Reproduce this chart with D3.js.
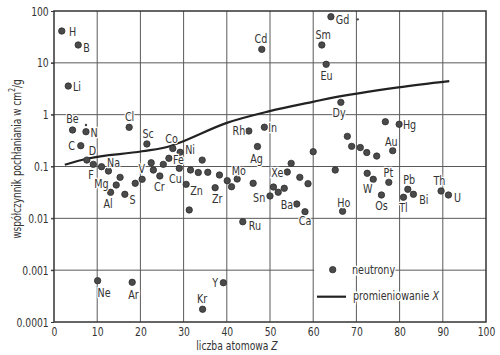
<!DOCTYPE html>
<html>
<head>
<meta charset="utf-8">
<script src="https://cdn.jsdelivr.net/npm/d3@7"></script>
<style>
  html, body { margin: 0; padding: 0; background: #fff; }
  svg text { font-family: "Liberation Sans Narrow", "DejaVu Sans Condensed", sans-serif; fill: #333; }
</style>
</head>
<body>
<svg id="chart" width="500" height="355"></svg>
<script>
// ---- data ----
const xTicks = [0, 10, 20, 30, 40, 50, 60, 70, 80, 90, 100];
const yTicks = [100, 10, 1, 0.1, 0.01, 0.001, 0.0001];
const yTickLabels = ["100", "10", "1", "0.1", "0.01", "0.001", "0.0001"];

// neutron points: Z and coefficient
const neutronZ = [1.8, 5.6, 3.3, 4.3, 7.4, 6.2, 7.6, 9.1, 11.0, 12.6, 15.3, 14.4, 13.1, 16.4, 18.8, 20.4,
  17.4, 21.5, 22.5, 23.0, 24.5, 25.3, 26.6, 27.5, 29.2, 29.0, 30.6, 31.3, 31.6, 33.4, 34.3, 35.6,
  38.3, 37.3, 40.1, 41.1, 42.4, 43.7, 45.1, 46.1, 47.1, 48.1, 48.7, 50.0, 50.8, 51.9, 53.3, 54.0,
  54.9, 56.9, 58.8, 56.2, 58.1, 60.0, 62.0, 63.0, 64.1, 65.1, 66.4, 66.8, 67.9, 68.9, 70.9, 72.4,
  74.7, 72.5, 73.9, 75.8, 77.5, 78.4, 76.7, 79.9, 80.9, 81.9, 83.2, 89.6, 91.3, 10.1, 18.1, 34.4, 39.2];
const neutronV = [41.1, 22.1, 3.57, 0.506, 0.469, 0.252, 0.133, 0.110, 0.099, 0.0818, 0.0618, 0.0439, 0.0318, 0.0291, 0.0474, 0.0566,
  0.570, 0.272, 0.118, 0.0855, 0.0656, 0.110, 0.144, 0.222, 0.188, 0.0923, 0.0453, 0.0145, 0.0855, 0.0766, 0.133, 0.0773,
  0.0685, 0.039, 0.0532, 0.0407, 0.0574, 0.0086, 0.484, 0.0474, 0.243, 18.2, 0.573, 0.027, 0.0402, 0.0319, 0.038, 0.0783,
  0.115, 0.0618, 0.0466, 0.0189, 0.0134, 0.193, 22.1, 9.37, 77.6, 0.0855, 1.73, 0.0137, 0.382, 0.245, 0.232, 0.186,
  0.159, 0.0739, 0.0566, 0.0282, 0.0495, 0.202, 0.731, 0.652, 0.0255, 0.0363, 0.0291, 0.0337, 0.0282, 0.000626, 0.000583, 0.000176, 0.000573];
// tiny specks in the original
const speckZ = [7.4, 70.3];
const speckV = [0.63, 69];

// element labels: text, Z, coefficient (label centre)
const labelText = ["H","B","Li","Be","N","C","D","F","Na","Mg","Al","S","Cl","Sc","V","Cr","Cu","Fe","Co","Ni",
  "Zn","Zr","Mo","Rh","Ag","Cd","In","Ru","Sn","Xe","Ba","Ca","Sm","Eu","Gd","Dy","Ho","Hg","Au","W",
  "Pt","Os","Pb","Tl","Bi","Th","U","Ne","Ar","Kr","Y"];
const labelZ = [4.28, 7.52, 5.32, 4.28, 9.26, 4.05, 8.91, 8.56, 13.8, 11.0, 12.5, 18.2, 17.5, 21.8, 20.3, 24.4, 28.1, 28.8, 27.2, 31.5,
  33.0, 37.8, 42.8, 42.8, 46.9, 47.9, 50.6, 46.5, 47.5, 51.7, 53.9, 58.1, 62.3, 63.1, 66.8, 66.0, 67.1, 82.3, 78.1, 72.6,
  77.4, 75.8, 82.2, 80.9, 85.6, 89.2, 93.4, 11.6, 18.4, 34.3, 37.3];
const labelV = [40.2, 19.8, 3.42, 0.824, 0.453, 0.254, 0.2035, 0.0685, 0.119, 0.047, 0.0195, 0.0233, 0.922, 0.424, 0.0923, 0.0407, 0.0592, 0.133, 0.34, 0.21,
  0.0337, 0.0243, 0.0818, 0.484, 0.144, 28.8, 0.565, 0.00711, 0.0255, 0.0773, 0.0181, 0.00887, 34.4, 5.57, 68.5, 1.11, 0.02, 0.646, 0.303, 0.0368,
  0.0773, 0.0175, 0.0548, 0.0163, 0.0233, 0.0532, 0.0255, 0.000374, 0.000342, 0.000277, 0.000573];

// X-ray curve
const xrayZ = [2.5, 7.6, 20.4, 26.8, 29.5, 40.0, 49.9, 59.9, 63.7, 79.7, 91.5];
const xrayV = [0.108, 0.141, 0.197, 0.246, 0.298, 0.695, 1.17, 1.77, 2.06, 3.36, 4.44];

const legendLabels = ["neutrony", "promieniowanie "];

// ---- chart ----
(function () {
const svg = d3.select("#chart");
const mL = 54, mR = 486, mT = 11, mB = 322;
const x = d3.scaleLinear().domain([0, 100]).range([mL, mR]);
const y = d3.scaleLog().domain([0.0001, 100]).range([mB, mT]);
const SX = 0.82; // horizontal condensing of the typeface

const gridColor = "#5a5a5a";

// grid
svg.append("g").selectAll("line").data(xTicks.slice(1, -1)).join("line")
  .attr("x1", d => x(d)).attr("x2", d => x(d)).attr("y1", mT).attr("y2", mB)
  .attr("stroke", gridColor).attr("stroke-width", 1);
svg.append("g").selectAll("line").data(yTicks.slice(1, -1)).join("line")
  .attr("x1", mL - 3).attr("x2", mR).attr("y1", d => y(d)).attr("y2", d => y(d))
  .attr("stroke", gridColor).attr("stroke-width", 1);

// axes via d3
const yAxis = d3.axisLeft(y).tickValues(yTicks).tickFormat((d, i) => yTickLabels[i]).tickSize(3).tickPadding(1);
const gy = svg.append("g").attr("transform", `translate(${mL},0)`).call(yAxis);
gy.select(".domain").remove();
gy.selectAll("line").attr("stroke", "#333");
gy.selectAll("text").style("font-size", "12.5px").attr("fill", "#333")
  .attr("transform", `translate(-2,0) scale(${SX},1)`);

const xAxis = d3.axisBottom(x).tickValues(xTicks).tickFormat(d3.format("d")).tickSize(0).tickPadding(5);
const gx = svg.append("g").attr("transform", `translate(0,${mB})`).call(xAxis);
gx.select(".domain").remove();
gx.selectAll(".tick text").style("font-size", "12.5px").attr("fill", "#333")
  .attr("transform", `scale(${SX},1)`);

// frame
svg.append("rect").attr("x", mL).attr("y", mT).attr("width", mR - mL).attr("height", mB - mT)
  .attr("fill", "none").attr("stroke", "#333").attr("stroke-width", 1.5);

// legend background blanks
const lg = svg.append("g");
lg.append("rect").attr("x", x(60) + 1).attr("y", y(0.001) - 4).attr("width", 40).attr("height", 8).attr("fill", "#fff");

// X-ray line
const line = d3.line().x((d, i) => x(xrayZ[i])).y((d, i) => y(xrayV[i])).curve(d3.curveMonotoneX);
svg.append("path").datum(xrayZ).attr("d", line).attr("fill", "none").attr("stroke", "#222").attr("stroke-width", 2.2);

// neutron points
svg.append("g").selectAll("circle").data(neutronZ).join("circle")
  .attr("cx", (d, i) => x(neutronZ[i])).attr("cy", (d, i) => y(neutronV[i])).attr("r", 3.2)
  .attr("fill", "#4a4a4a").attr("stroke", "#2e2e2e").attr("stroke-width", 0.8);
svg.append("g").selectAll("circle").data(speckZ).join("circle")
  .attr("cx", (d, i) => x(speckZ[i])).attr("cy", (d, i) => y(speckV[i])).attr("r", 1.2)
  .attr("fill", "#444");

// labels
svg.append("g").selectAll("text").data(labelText).join("text")
  .attr("transform", (d, i) => `translate(${x(labelZ[i])},${y(labelV[i])}) scale(${SX},1)`)
  .attr("text-anchor", "middle").attr("dominant-baseline", "central")
  .style("font-size", "13px")
  .style("paint-order", "stroke").attr("stroke", "#fff").attr("stroke-width", 2.5)
  .text(d => d);

// legend
lg.append("circle").attr("cx", 332.7).attr("cy", y(0.001) - 0.5).attr("r", 3.2).attr("fill", "#4a4a4a").attr("stroke", "#2e2e2e").attr("stroke-width", 0.8);
lg.append("text").attr("transform", `translate(352,${y(0.001) - 1}) scale(${SX},1)`).attr("dominant-baseline", "central")
  .style("font-size", "13px").style("paint-order", "stroke").attr("stroke", "#fff").attr("stroke-width", 3)
  .text(legendLabels[0]);
lg.append("line").attr("x1", 317).attr("x2", 346).attr("y1", 296.7).attr("y2", 296.7).attr("stroke", "#222").attr("stroke-width", 2.2);
const t2 = lg.append("text").attr("transform", `translate(353,296) scale(${SX},1)`).attr("dominant-baseline", "central")
  .style("font-size", "13px").style("paint-order", "stroke").attr("stroke", "#fff").attr("stroke-width", 3);
t2.append("tspan").text(legendLabels[1]);
t2.append("tspan").style("font-style", "italic").text("X");

// axis titles
const xt = svg.append("text").attr("transform", `translate(237,346) scale(${SX},1)`).attr("text-anchor", "middle").attr("dominant-baseline", "central")
  .style("font-size", "12.5px");
xt.append("tspan").text("liczba atomowa ");
xt.append("tspan").style("font-style", "italic").text("Z");

const yt = svg.append("text").attr("transform", "translate(17,159) rotate(-90) scale(0.8,1)").attr("text-anchor", "middle")
  .attr("dominant-baseline", "central").style("font-size", "12.5px");
yt.append("tspan").text("współczynnik pochłaniania w cm");
yt.append("tspan").attr("dy", -5).style("font-size", "9px").text("2");
yt.append("tspan").attr("dy", 5).text("/g");
})();
</script>
</body>
</html>
